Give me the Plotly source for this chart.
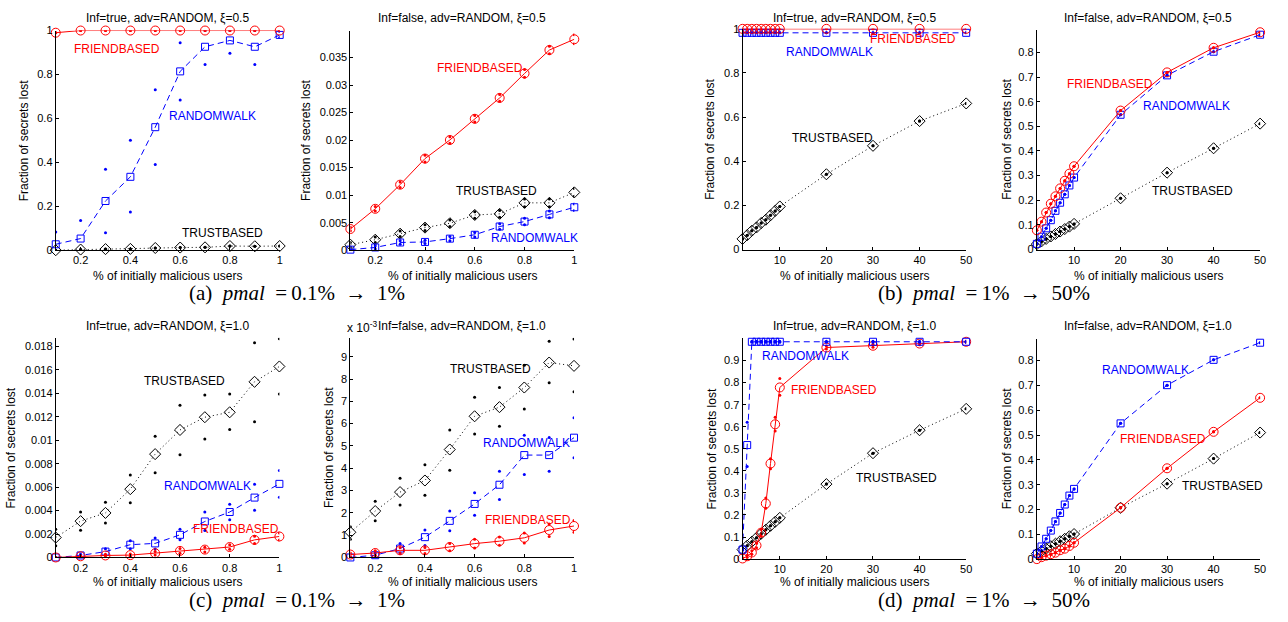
import plotly.graph_objects as go

# ---------------------------------------------------------------- data
X_SMALL = [0.1, 0.2, 0.3, 0.4, 0.5, 0.6, 0.7, 0.8, 0.9, 1.0]
X_LARGE = [2, 3, 4, 5, 6, 7, 8, 9, 10, 20, 30, 40, 50]

PANEL_TITLES = [
    "Inf=true, adv=RANDOM, ξ=0.5", "Inf=false, adv=RANDOM, ξ=0.5",
    "Inf=true, adv=RANDOM, ξ=0.5", "Inf=false, adv=RANDOM, ξ=0.5",
    "Inf=true, adv=RANDOM, ξ=1.0", "Inf=false, adv=RANDOM, ξ=1.0",
    "Inf=true, adv=RANDOM, ξ=1.0", "Inf=false, adv=RANDOM, ξ=1.0",
]
CAPTIONS = [
    "(a)\u2002<i>pmal</i>\u2002=\u20090.1%\u2002→\u20021%",
    "(b)\u2002<i>pmal</i>\u2002=\u20091%\u2002→\u200250%",
    "(c)\u2002<i>pmal</i>\u2002=\u20090.1%\u2002→\u20021%",
    "(d)\u2002<i>pmal</i>\u2002=\u20091%\u2002→\u200250%",
]
X_LABEL = "% of initially malicious users"
Y_LABEL = "Fraction of secrets lost"

# (a) left : Inf=true, xi=0.5, pmal 0.1..1
A1_FRIEND = [0.99, 1.0, 1.0, 1.0, 1.0, 1.0, 1.0, 1.0, 1.0, 1.0]
A1_RANDOM = [0.027, 0.053, 0.224, 0.334, 0.56, 0.814, 0.926, 0.955, 0.926, 0.98]
A1_RANDOM_LO = [-0.03, -0.03, 0.079, 0.174, 0.39, 0.684, 0.845, 0.896, 0.845, 0.968]
A1_RANDOM_HI = [0.083, 0.135, 0.368, 0.50, 0.73, 0.944, 1.0, 1.0, 1.0, 0.995]
A1_TRUST = [0.0, 0.003, 0.005, 0.006, 0.01, 0.012, 0.013, 0.019, 0.018, 0.019]

# (a) right : Inf=false, xi=0.5
A2_FRIEND = [0.00385, 0.00752, 0.0119, 0.01664, 0.02002, 0.02387, 0.02766, 0.0321, 0.03636, 0.03831]
A2_FRIEND_ERR = [0.0003, 0.0004, 0.0005, 0.0006, 0.0006, 0.0006, 0.0006, 0.0007, 0.0007, 0.0008]
A2_TRUST = [0.001, 0.0019, 0.003, 0.0041, 0.0049, 0.0064, 0.0066, 0.0086, 0.0086, 0.0105]
A2_TRUST_ERR = [0.0004, 0.0005, 0.0005, 0.0005, 0.0006, 0.0006, 0.0006, 0.0007, 0.0007, 0.0007]
A2_RANDOM = [0.0001, 0.0005, 0.0014, 0.0015, 0.0021, 0.0028, 0.0043, 0.0052, 0.0065, 0.0078]
A2_RANDOM_ERR = [0.0001, 0.0003, 0.0003, 0.0003, 0.0004, 0.0004, 0.0005, 0.0006, 0.0006, 0.0006]

# (b) left : Inf=true, xi=0.5, pmal 1..50
B1_FRIEND = [1.0, 1.0, 1.0, 1.0, 1.0, 1.0, 1.0, 1.0, 1.0, 1.0, 1.0, 1.0, 1.0]
B1_RANDOM = [0.982, 0.982, 0.982, 0.982, 0.982, 0.982, 0.982, 0.982, 0.982, 0.982, 0.982, 0.982, 0.982]
B1_TRUST = [0.048, 0.065, 0.085, 0.10, 0.12, 0.135, 0.155, 0.175, 0.195, 0.341, 0.47, 0.582, 0.662]

# (b) right : Inf=false, xi=0.5
B2_FRIEND = [0.078, 0.113, 0.15, 0.186, 0.216, 0.248, 0.279, 0.308, 0.338, 0.564, 0.719, 0.819, 0.882]
B2_RANDOM = [0.023, 0.052, 0.086, 0.119, 0.157, 0.19, 0.224, 0.26, 0.292, 0.547, 0.707, 0.803, 0.872]
B2_TRUST = [0.022, 0.033, 0.043, 0.053, 0.063, 0.073, 0.083, 0.093, 0.104, 0.208, 0.312, 0.411, 0.511]

# (c) left : Inf=true, xi=1.0, pmal 0.1..1
C1_TRUST = [0.0017, 0.0031, 0.0038, 0.00583, 0.00882, 0.01088, 0.01197, 0.01239, 0.01499, 0.0163]
C1_TRUST_LO = [0.001, 0.00232, 0.00293, 0.00466, 0.00723, 0.00876, 0.0101, 0.01091, 0.01158, 0.01395]
C1_TRUST_HI = [0.0024, 0.00388, 0.00472, 0.00703, 0.01035, 0.013, 0.01387, 0.01395, 0.01833, 0.01867]
C1_RANDOM = [0.0, 0.00017, 0.0005, 0.00109, 0.0012, 0.00193, 0.00307, 0.00388, 0.00511, 0.00628]
C1_RANDOM_LO = [0.0, 0.00007, 0.0002, 0.00075, 0.00073, 0.0015, 0.00229, 0.00321, 0.00402, 0.00513]
C1_RANDOM_HI = [0.0, 0.00027, 0.00075, 0.00142, 0.00167, 0.0024, 0.00388, 0.00455, 0.00625, 0.00742]
C1_FRIEND = [0.0, 0.0001, 0.00017, 0.0002, 0.00036, 0.00056, 0.00067, 0.00089, 0.0015, 0.00179]
C1_FRIEND_ERR = [0.0, 0.00005, 0.0001, 0.0001, 0.00015, 0.0002, 0.0002, 0.0002, 0.0003, 0.0003]

# (c) right : Inf=false, xi=1.0  (values in units of 1e-3)
C2_TRUST = [1.13, 2.08, 2.93, 3.45, 4.84, 6.33, 6.74, 7.62, 8.74, 8.59]
C2_TRUST_LO = [0.82, 1.64, 2.35, 2.79, 3.91, 5.53, 5.88, 6.66, 7.83, 7.43]
C2_TRUST_HI = [1.38, 2.52, 3.55, 4.16, 5.72, 7.18, 7.62, 8.62, 9.69, 9.79]
C2_RANDOM = [0.0, 0.1, 0.4, 0.91, 1.64, 2.4, 3.26, 4.59, 4.59, 5.37]
C2_RANDOM_LO = [0.0, 0.0, 0.18, 0.54, 1.2, 1.89, 2.6, 3.72, 3.87, 4.47]
C2_RANDOM_HI = [0.0, 0.2, 0.62, 1.23, 2.08, 2.9, 3.87, 5.48, 5.38, 6.26]
C2_FRIEND = [0.13, 0.2, 0.32, 0.32, 0.47, 0.62, 0.73, 0.88, 1.23, 1.41]
C2_FRIEND_LO = [0.05, 0.1, 0.2, 0.18, 0.3, 0.42, 0.55, 0.65, 0.94, 1.13]
C2_FRIEND_HI = [0.2, 0.3, 0.45, 0.45, 0.62, 0.82, 0.92, 1.1, 1.5, 1.66]

# (d) left : Inf=true, xi=1.0, pmal 1..50
D1_RANDOM = [0.043, 0.517, 0.985, 0.985, 0.985, 0.985, 0.985, 0.985, 0.985, 0.985, 0.985, 0.985, 0.985]
D1_RANDOM_LO = [0.04, 0.42, 0.983, 0.983, 0.983, 0.983, 0.983, 0.983, 0.983, 0.983, 0.983, 0.983, 0.983]
D1_RANDOM_HI = [0.046, 0.62, 0.987, 0.987, 0.987, 0.987, 0.987, 0.987, 0.987, 0.987, 0.987, 0.987, 0.987]
D1_FRIEND = [0.003, 0.013, 0.03, 0.062, 0.12, 0.252, 0.433, 0.611, 0.778, 0.959, 0.967, 0.977, 0.985]
D1_FRIEND_LO = [0.0, 0.008, 0.022, 0.052, 0.105, 0.23, 0.41, 0.581, 0.743, 0.952, 0.96, 0.972, 0.982]
D1_FRIEND_HI = [0.006, 0.018, 0.038, 0.072, 0.135, 0.277, 0.455, 0.643, 0.818, 0.966, 0.974, 0.982, 0.988]
D1_TRUST = [0.043, 0.061, 0.079, 0.097, 0.115, 0.133, 0.151, 0.169, 0.187, 0.34, 0.48, 0.584, 0.681]

# (d) right : Inf=false, xi=1.0
D2_RANDOM = [0.022, 0.051, 0.082, 0.115, 0.152, 0.186, 0.22, 0.256, 0.283, 0.547, 0.701, 0.803, 0.872]
D2_FRIEND = [0.0, 0.008, 0.014, 0.02, 0.026, 0.036, 0.042, 0.053, 0.066, 0.207, 0.366, 0.513, 0.65]
D2_TRUST = [0.022, 0.032, 0.042, 0.052, 0.062, 0.072, 0.082, 0.092, 0.101, 0.207, 0.304, 0.405, 0.51]

# tick labels
TICKS_X_SMALL = [0.2, 0.4, 0.6, 0.8, 1.0]
TICKTEXT_X_SMALL = ["0.2", "0.4", "0.6", "0.8", "1"]
TICKS_X_LARGE = [10, 20, 30, 40, 50]
TICKTEXT_X_LARGE = ["10", "20", "30", "40", "50"]
TICKS_Y_UNIT = [0, 0.2, 0.4, 0.6, 0.8, 1.0]
TICKTEXT_Y_UNIT = ["0", "0.2", "0.4", "0.6", "0.8", "1"]
TICKS_Y_A2 = [0, 0.005, 0.01, 0.015, 0.02, 0.025, 0.03, 0.035]
TICKTEXT_Y_A2 = ["0", "0.005", "0.01", "0.015", "0.02", "0.025", "0.03", "0.035"]
TICKS_Y_TENTHS8 = [0, 0.1, 0.2, 0.3, 0.4, 0.5, 0.6, 0.7, 0.8]
TICKTEXT_Y_TENTHS8 = ["0", "0.1", "0.2", "0.3", "0.4", "0.5", "0.6", "0.7", "0.8"]
TICKS_Y_TENTHS9 = [0, 0.1, 0.2, 0.3, 0.4, 0.5, 0.6, 0.7, 0.8, 0.9]
TICKTEXT_Y_TENTHS9 = ["0", "0.1", "0.2", "0.3", "0.4", "0.5", "0.6", "0.7", "0.8", "0.9"]
TICKS_Y_C1 = [0, 0.002, 0.004, 0.006, 0.008, 0.01, 0.012, 0.014, 0.016, 0.018]
TICKTEXT_Y_C1 = ["0", "0.002", "0.004", "0.006", "0.008", "0.01", "0.012", "0.014", "0.016", "0.018"]
TICKS_Y_C2 = [0, 1, 2, 3, 4, 5, 6, 7, 8, 9]
TICKTEXT_Y_C2 = ["0", "1", "2", "3", "4", "5", "6", "7", "8", "9"]

# ---------------------------------------------------------------- layout
W, H = 1288, 622
FONT = "Liberation Sans, Arial, Helvetica, sans-serif"
SERIF = "Liberation Serif, Times New Roman, serif"

STYLE = {
    "FRIENDBASED": dict(color="#ff0000", dash="solid", symbol="circle-open", size=9),
    "RANDOMWALK": dict(color="#0000ff", dash="6px,4px", symbol="square-open", size=7),
    "TRUSTBASED": dict(color="#000000", dash="1px,3px", symbol="diamond-open", size=8.5),
}


def sym(y, err):
    return [v - e for v, e in zip(y, err)], [v + e for v, e in zip(y, err)]


a2f = sym(A2_FRIEND, A2_FRIEND_ERR)
a2t = sym(A2_TRUST, A2_TRUST_ERR)
a2r = sym(A2_RANDOM, A2_RANDOM_ERR)
c1f = sym(C1_FRIEND, C1_FRIEND_ERR)

# each panel: pixel box (left, right, top, bottom), ranges, ticks, series, labels
PANELS = [
    dict(box=(56, 281, 25, 249), xr=[0.1, 1.0], yr=[0, 1.0],
         xt=(TICKS_X_SMALL, TICKTEXT_X_SMALL), yt=(TICKS_Y_UNIT, TICKTEXT_Y_UNIT), ylab_x=24,
         series=[("TRUSTBASED", X_SMALL, A1_TRUST, None, None),
                 ("RANDOMWALK", X_SMALL, A1_RANDOM, A1_RANDOM_LO, A1_RANDOM_HI),
                 ("FRIENDBASED", X_SMALL, A1_FRIEND, None, None)],
         labels=[("FRIENDBASED", 0.346, 0.918), ("RANDOMWALK", 0.732, 0.609), ("TRUSTBASED", 0.770, 0.076)]),
    dict(box=(352, 577, 25, 249), xr=[0.1, 1.0], yr=[0, 0.0399],
         xt=(TICKS_X_SMALL, TICKTEXT_X_SMALL), yt=(TICKS_Y_A2, TICKTEXT_Y_A2), ylab_x=308,
         series=[("TRUSTBASED", X_SMALL, A2_TRUST, a2t[0], a2t[1]),
                 ("RANDOMWALK", X_SMALL, A2_RANDOM, a2r[0], a2r[1]),
                 ("FRIENDBASED", X_SMALL, A2_FRIEND, a2f[0], a2f[1])],
         labels=[("FRIENDBASED", 0.622, 0.03305), ("TRUSTBASED", 0.686, 0.01072), ("RANDOMWALK", 0.84, 0.00225)]),
    dict(box=(746, 970.7, 23.3, 248.3), xr=[2, 50], yr=[0, 1.0],
         xt=(TICKS_X_LARGE, TICKTEXT_X_LARGE), yt=(TICKS_Y_UNIT, TICKTEXT_Y_UNIT), ylab_x=714,
         series=[("TRUSTBASED", X_LARGE, B1_TRUST, None, None),
                 ("RANDOMWALK", X_LARGE, B1_RANDOM, None, None),
                 ("FRIENDBASED", X_LARGE, B1_FRIEND, None, None)],
         labels=[("FRIENDBASED", 38.5, 0.952), ("RANDOMWALK", 20.7, 0.896), ("TRUSTBASED", 21.4, 0.504)]),
    dict(box=(1041.7, 1266, 24, 248.3), xr=[2, 50], yr=[0, 0.893],
         xt=(TICKS_X_LARGE, TICKTEXT_X_LARGE), yt=(TICKS_Y_TENTHS8, TICKTEXT_Y_TENTHS8), ylab_x=1011,
         series=[("TRUSTBASED", X_LARGE, B2_TRUST, None, None),
                 ("RANDOMWALK", X_LARGE, B2_RANDOM, None, None),
                 ("FRIENDBASED", X_LARGE, B2_FRIEND, None, None)],
         labels=[("FRIENDBASED", 17.8, 0.673), ("RANDOMWALK", 34.1, 0.584), ("TRUSTBASED", 35.5, 0.239)]),
    dict(box=(56, 280.7, 338.3, 562.3), xr=[0.1, 1.0], yr=[0, 0.01875],
         xt=(TICKS_X_SMALL, TICKTEXT_X_SMALL), yt=(TICKS_Y_C1, TICKTEXT_Y_C1), ylab_x=11,
         series=[("TRUSTBASED", X_SMALL, C1_TRUST, C1_TRUST_LO, C1_TRUST_HI),
                 ("RANDOMWALK", X_SMALL, C1_RANDOM, C1_RANDOM_LO, C1_RANDOM_HI),
                 ("FRIENDBASED", X_SMALL, C1_FRIEND, c1f[0], c1f[1])],
         labels=[("TRUSTBASED", 0.617, 0.01504), ("RANDOMWALK", 0.71, 0.00611), ("FRIENDBASED", 0.826, 0.00243)]),
    dict(box=(352, 576.7, 338.3, 562.3), xr=[0.1, 1.0], yr=[0, 9.85],
         xt=(TICKS_X_SMALL, TICKTEXT_X_SMALL), yt=(TICKS_Y_C2, TICKTEXT_Y_C2), ylab_x=330,
         series=[("TRUSTBASED", X_SMALL, C2_TRUST, C2_TRUST_LO, C2_TRUST_HI),
                 ("RANDOMWALK", X_SMALL, C2_RANDOM, C2_RANDOM_LO, C2_RANDOM_HI),
                 ("FRIENDBASED", X_SMALL, C2_FRIEND, C2_FRIEND_LO, C2_FRIEND_HI)],
         labels=[("TRUSTBASED", 0.662, 8.43), ("RANDOMWALK", 0.809, 5.13), ("FRIENDBASED", 0.816, 1.69)]),
    dict(box=(746, 970.7, 339, 564), xr=[2, 50], yr=[0, 1.0],
         xt=(TICKS_X_LARGE, TICKTEXT_X_LARGE), yt=(TICKS_Y_TENTHS9, TICKTEXT_Y_TENTHS9), ylab_x=715,
         series=[("TRUSTBASED", X_LARGE, D1_TRUST, None, None),
                 ("FRIENDBASED", X_LARGE, D1_FRIEND, D1_FRIEND_LO, D1_FRIEND_HI),
                 ("RANDOMWALK", X_LARGE, D1_RANDOM, D1_RANDOM_LO, D1_RANDOM_HI)],
         labels=[("RANDOMWALK", 15.5, 0.919), ("FRIENDBASED", 21.6, 0.767), ("TRUSTBASED", 35.0, 0.366)]),
    dict(box=(1041.7, 1266, 339.3, 564), xr=[2, 50], yr=[0, 0.888],
         xt=(TICKS_X_LARGE, TICKTEXT_X_LARGE), yt=(TICKS_Y_TENTHS8, TICKTEXT_Y_TENTHS8), ylab_x=1012,
         series=[("TRUSTBASED", X_LARGE, D2_TRUST, None, None),
                 ("FRIENDBASED", X_LARGE, D2_FRIEND, None, None),
                 ("RANDOMWALK", X_LARGE, D2_RANDOM, None, None)],
         labels=[("RANDOMWALK", 25.3, 0.764), ("FRIENDBASED", 29.1, 0.484), ("TRUSTBASED", 41.9, 0.295)]),
]

fig = go.Figure()
annotations = []
layout_axes = {}

for i, p in enumerate(PANELS):
    n = i + 1
    sfx = "" if n == 1 else str(n)
    xa, ya = "x" + sfx, "y" + sfx
    L, R, T, B = p["box"]
    layout_axes["xaxis" + sfx] = dict(
        domain=[L / W, R / W], range=p["xr"], anchor=ya,
        tickvals=p["xt"][0], ticktext=p["xt"][1], ticks="inside", ticklen=3,
        tickcolor="black", showline=True, linecolor="black", linewidth=1,
        showgrid=False, zeroline=False, tickfont=dict(family=FONT, size=11, color="black"),
    )
    layout_axes["yaxis" + sfx] = dict(
        domain=[1 - B / H, 1 - T / H], range=p["yr"], anchor=xa,
        tickvals=p["yt"][0], ticktext=p["yt"][1], ticks="inside", ticklen=3,
        tickcolor="black", showline=True, linecolor="black", linewidth=1,
        showgrid=False, zeroline=False, tickfont=dict(family=FONT, size=11, color="black"),
    )
    for name, xs, ys, lo, hi in p["series"]:
        st = STYLE[name]
        fig.add_trace(go.Scatter(
            x=xs, y=ys, xaxis=xa, yaxis=ya, mode="lines+markers", showlegend=False,
            cliponaxis=False,
            line=dict(color=st["color"], width=1, dash=st["dash"]),
            marker=dict(symbol=st["symbol"], size=st["size"], color=st["color"],
                        line=dict(color=st["color"], width=1)),
        ))
        dots_x = list(xs) + list(xs)
        dots_y = (list(lo) if lo else list(ys)) + (list(hi) if hi else list(ys))
        fig.add_trace(go.Scatter(
            x=dots_x, y=dots_y, xaxis=xa, yaxis=ya, mode="markers", showlegend=False,
            cliponaxis=True,
            marker=dict(symbol="circle", size=3, color=st["color"]),
        ))
    for name, lx, ly in p["labels"]:
        annotations.append(dict(
            x=lx, y=ly, xref=xa, yref=ya, text=name, showarrow=False,
            xanchor="center", yanchor="middle",
            font=dict(family=FONT, size=12, color=STYLE[name]["color"]),
        ))
    # panel title
    top_row = T < 300
    cx = (L + R) / 2 / W
    annotations.append(dict(
        x=cx, y=1 - (12 if top_row else 326.7) / H, xref="paper", yref="paper",
        text=PANEL_TITLES[i], showarrow=False, xanchor="center", yanchor="middle",
        font=dict(family=FONT, size=12, color="black"),
    ))
    # x axis label
    annotations.append(dict(
        x=cx, y=1 - (275 if top_row else 587.7) / H, xref="paper", yref="paper",
        text=X_LABEL, showarrow=False, xanchor="center", yanchor="middle",
        font=dict(family=FONT, size=12, color="black"),
    ))
    # y axis label
    annotations.append(dict(
        x=p["ylab_x"] / W, y=1 - (T + B) / 2 / H, xref="paper", yref="paper",
        text=Y_LABEL, showarrow=False, xanchor="center", yanchor="middle", textangle=-90,
        font=dict(family=FONT, size=12, color="black"),
    ))

# exponent marker for panel (c) right
annotations.append(dict(
    x=347 / W, y=1 - 327 / H, xref="paper", yref="paper", text="x 10<sup>-3</sup>",
    showarrow=False, xanchor="left", yanchor="middle",
    font=dict(family=FONT, size=12, color="black"),
))

# captions
for text, cxp, cyp in zip(CAPTIONS, [298.5, 988.5, 298.5, 988.5], [293, 293, 606, 606]):
    annotations.append(dict(
        x=cxp / W, y=1 - cyp / H, xref="paper", yref="paper", text=text,
        showarrow=False, xanchor="center", yanchor="middle",
        font=dict(family=SERIF, size=21, color="black"),
    ))

fig.update_layout(
    width=W, height=H, margin=dict(l=0, r=0, t=0, b=0),
    paper_bgcolor="white", plot_bgcolor="white", showlegend=False,
    annotations=annotations, **layout_axes,
)

fig.write_html(
    "out.html",
    config={"displayModeBar": False},
    post_script="document.body.style.margin='0';document.body.style.overflow='hidden';",
)
